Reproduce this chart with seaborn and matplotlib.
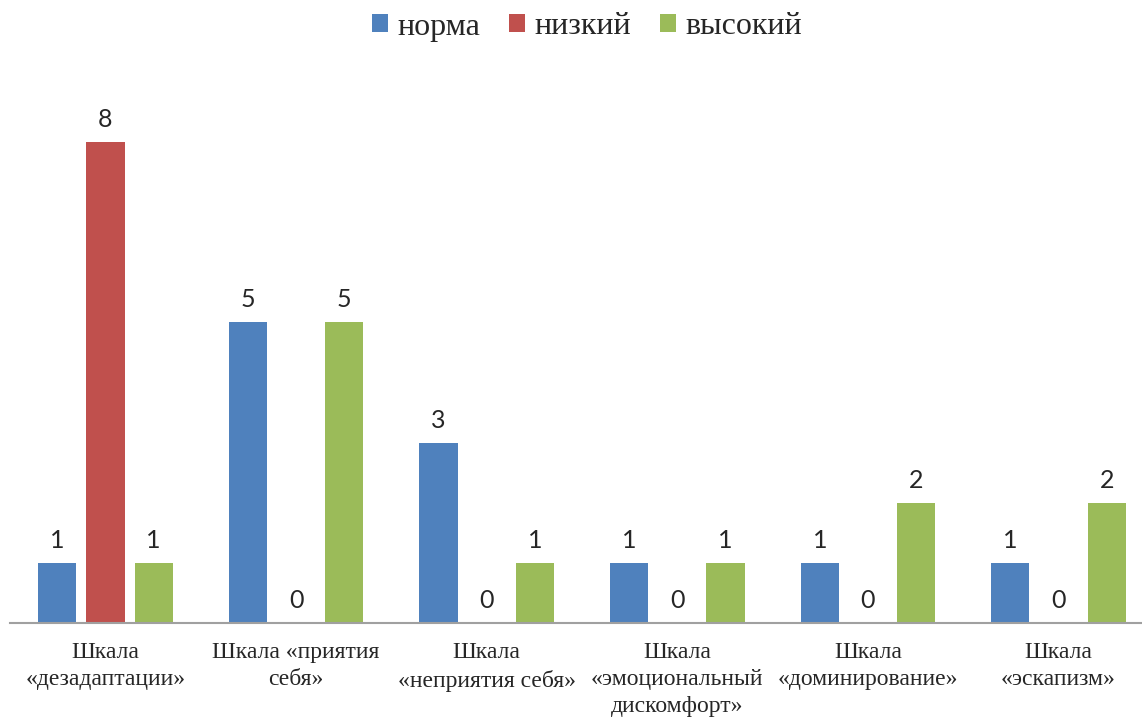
import pandas as pd
import matplotlib.pyplot as plt
import seaborn as sns

# categories and series
categories = ['Шкала\n«дезадаптации»', 'Шкала «приятия\nсебя»', 'Шкала\n«неприятия себя»',
              'Шкала\n«эмоциональный\nдискомфорт»', 'Шкала\n«доминирование»', 'Шкала\n«эскапизм»']
series = ['норма', 'низкий', 'высокий']
norma = [1, 5, 3, 1, 1, 1]
nizkiy = [8, 0, 0, 0, 0, 0]
vysokiy = [1, 5, 1, 1, 2, 2]
colors = ['#4F81BD', '#C0504D', '#9BBB59']

df = pd.DataFrame({
    'cat': categories * 3,
    'level': [s for s in series for _ in categories],
    'value': norma + nizkiy + vysokiy,
})

sns.set_style('white')
plt.rcParams['font.family'] = ['Liberation Serif', 'DejaVu Serif']

fig = plt.figure(figsize=(11.42, 7.18), dpi=100)
# axes placed so the category span matches the reference (runs off the right edge)
ax = fig.add_axes([10.2 / 1142, 95 / 718, 1143.6 / 1142, 541 / 718])

sns.barplot(data=df, x='cat', y='value', hue='level', palette=colors, saturation=1,
            width=0.758, gap=0.208, linewidth=0, ax=ax)

ax.set_xlim(-0.5, 5.5)
ax.set_ylim(0, 9)
ax.set_xlabel('')
ax.set_ylabel('')
ax.set_yticks([])
for s in ['top', 'left', 'right']:
    ax.spines[s].set_visible(False)
ax.spines['bottom'].set_color('#A0A0A0')
ax.spines['bottom'].set_linewidth(1.5)
ax.tick_params(axis='x', length=0, pad=14, labelsize=17)
for t in ax.get_xticklabels():
    t.set_linespacing(1.36)

for c in ax.containers:
    ax.bar_label(c, fmt='%d', padding=8, fontsize=18, family=['Lato', 'DejaVu Sans'])

handles, labels = ax.get_legend_handles_labels()
ax.get_legend().remove()
fig.legend(handles, labels, loc='center', bbox_to_anchor=(587 / 1142, 1 - 27 / 718),
           ncol=3, frameon=False, fontsize=23, handlelength=0.5, handleheight=0.5,
           handletextpad=0.3, columnspacing=0.9)

fig.savefig('out.png', dpi=100)
